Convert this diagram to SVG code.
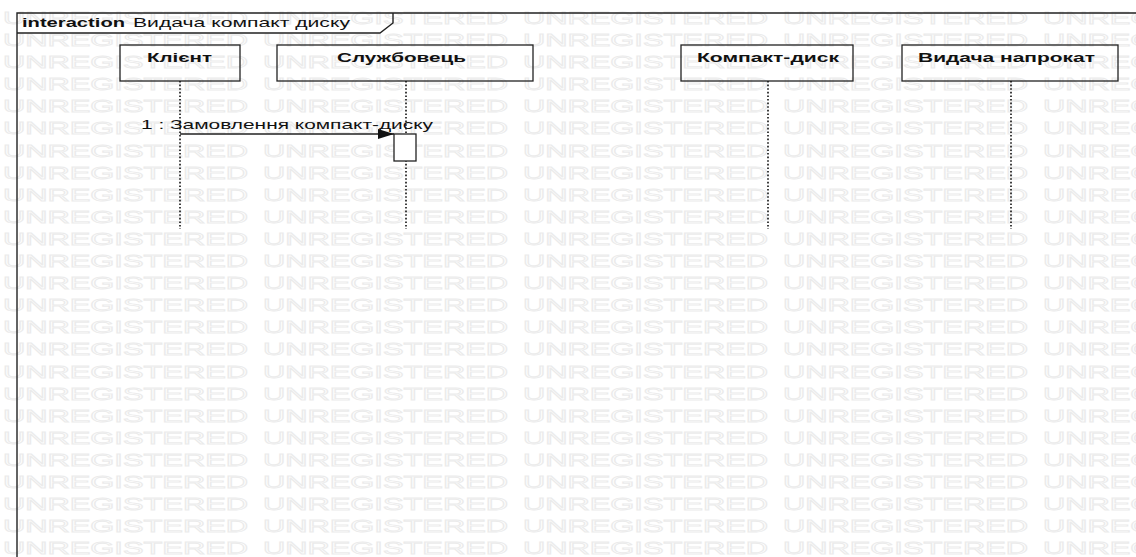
<svg xmlns="http://www.w3.org/2000/svg" width="1136" height="557" viewBox="0 0 1136 557">
  <defs>
    <style>
      .wm { font-family: "Liberation Sans", Arial, sans-serif; font-size: 16px; fill: none; stroke: #ebebeb; stroke-width: 0.8; }
      .frame { fill: none; stroke: #222; stroke-width: 1.4; }
      .head { fill: none; stroke: #222; stroke-width: 1.3; }
      .life { fill: none; stroke: #111; stroke-width: 1.6; stroke-dasharray: 1.6 2; }
      .act { fill: #fff; stroke: #222; stroke-width: 1.3; }
      .msg { fill: none; stroke: #222; stroke-width: 1.3; }
      .lbl { font-family: "Liberation Sans", Arial, sans-serif; font-size: 13.5px; fill: #111; }
      .hdr { font-family: "Liberation Sans", Arial, sans-serif; font-size: 13.5px; font-weight: bold; fill: #111; }
    </style>
    <marker id="filled" viewBox="0 0 16 10" refX="16" refY="5" markerWidth="16" markerHeight="10" markerUnits="userSpaceOnUse" orient="auto">
      <path d="M0,0 L16,5 L0,10 Z" fill="#111"/>
    </marker>
    <!-- one row of the background stamp -->
    <g id="wmrow">
      <text class="wm" x="3" textLength="245" lengthAdjust="spacingAndGlyphs">UNREGISTERED</text>
      <text class="wm" x="263" textLength="245" lengthAdjust="spacingAndGlyphs">UNREGISTERED</text>
      <text class="wm" x="523" textLength="245" lengthAdjust="spacingAndGlyphs">UNREGISTERED</text>
      <text class="wm" x="783" textLength="245" lengthAdjust="spacingAndGlyphs">UNREGISTERED</text>
      <text class="wm" x="1043" textLength="245" lengthAdjust="spacingAndGlyphs">UNREGISTERED</text>
    </g>
  </defs>

  <rect width="1136" height="557" fill="#fff"/>

  <!-- background stamp rows -->
  <g id="watermark">
    <use href="#wmrow" y="24"/>
    <use href="#wmrow" y="46"/>
    <use href="#wmrow" y="68"/>
    <use href="#wmrow" y="90"/>
    <use href="#wmrow" y="112"/>
    <use href="#wmrow" y="134"/>
    <use href="#wmrow" y="157"/>
    <use href="#wmrow" y="179"/>
    <use href="#wmrow" y="201"/>
    <use href="#wmrow" y="223"/>
    <use href="#wmrow" y="245"/>
    <use href="#wmrow" y="267"/>
    <use href="#wmrow" y="289"/>
    <use href="#wmrow" y="311"/>
    <use href="#wmrow" y="333"/>
    <use href="#wmrow" y="355"/>
    <use href="#wmrow" y="378"/>
    <use href="#wmrow" y="400"/>
    <use href="#wmrow" y="422"/>
    <use href="#wmrow" y="444"/>
    <use href="#wmrow" y="466"/>
    <use href="#wmrow" y="488"/>
    <use href="#wmrow" y="510"/>
    <use href="#wmrow" y="532"/>
    <use href="#wmrow" y="554"/>
  </g>

  <!-- interaction frame -->
  <g id="frame">
    <path class="frame" d="M17,557 L17,13 L1136,13"/>
    <path class="frame" d="M17,33 L380,33 L393,23 L393,13"/>
    <text class="lbl" x="22" y="27"><tspan font-weight="bold" textLength="103" lengthAdjust="spacingAndGlyphs">interaction</tspan><tspan x="133" textLength="217" lengthAdjust="spacingAndGlyphs">Видача компакт диску</tspan></text>
  </g>

  <!-- lifelines -->
  <g id="client">
    <rect class="head" x="120" y="45" width="120" height="36"/>
    <text class="hdr" x="147" y="62" textLength="65" lengthAdjust="spacingAndGlyphs">Клієнт</text>
    <line class="life" x1="180" y1="81" x2="180" y2="229"/>
  </g>
  <g id="clerk">
    <rect class="head" x="277" y="45" width="256" height="36"/>
    <text class="hdr" x="337" y="62" textLength="129" lengthAdjust="spacingAndGlyphs">Службовець</text>
    <line class="life" x1="406" y1="81" x2="406" y2="229"/>
    <rect class="act" x="394" y="134" width="22" height="27"/>
  </g>
  <g id="disc">
    <rect class="head" x="681" y="45" width="172" height="36"/>
    <text class="hdr" x="697" y="62" textLength="142" lengthAdjust="spacingAndGlyphs">Компакт-диск</text>
    <line class="life" x1="768" y1="81" x2="768" y2="229"/>
  </g>
  <g id="rental">
    <rect class="head" x="902" y="45" width="216" height="36"/>
    <text class="hdr" x="918" y="62" textLength="177" lengthAdjust="spacingAndGlyphs">Видача напрокат</text>
    <line class="life" x1="1011" y1="81" x2="1011" y2="229"/>
  </g>

  <!-- messages -->
  <g id="connectors">
    <line class="msg" x1="180" y1="134" x2="394" y2="134" marker-end="url(#filled)"/>
    <text class="lbl" x="141" y="129" textLength="292" lengthAdjust="spacingAndGlyphs">1 : Замовлення компакт-диску</text>
  </g>
</svg>
